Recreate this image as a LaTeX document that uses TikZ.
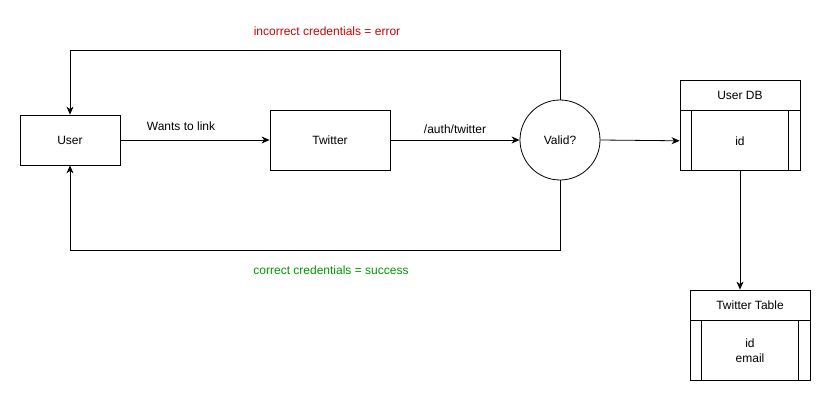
\documentclass[tikz,border=0pt]{standalone}
\usepackage{fontspec}
\setmainfont{Liberation Sans}
\usetikzlibrary{arrows.meta,positioning}
\definecolor{errred}{HTML}{CC0000}
\definecolor{okgreen}{HTML}{009900}
\tikzset{
  box/.style={draw, line width=0.8pt, inner sep=0pt, font=\fontsize{12}{14.5}\selectfont},
  arr/.style={line width=0.8pt, -{Stealth[length=8pt,width=7pt,inset=2.5pt]}},
  lbl/.style={inner sep=0pt, font=\fontsize{12}{14.5}\selectfont}
}

\begin{document}
\begin{tikzpicture}[x=1pt,y=-1pt]
          \useasboundingbox (0,0) rectangle (831,401);

          % main flow
          \node[box, minimum width=100pt, minimum height=50pt] (user) at (70,140) {User};
          \node[box, minimum width=120pt, minimum height=60pt] (twitter) at (330,140) {Twitter};
          \node[box, circle, minimum size=80pt] (valid) at (560,140) {Valid?};

          % user db
          \node[box, minimum width=120pt, minimum height=30pt] (dbhead) at (740,95) {User DB};
          \node[box, minimum width=120pt, minimum height=60pt, anchor=north] (dbbody) at (dbhead.south) {id};
          \draw[line width=0.8pt] ([xshift=12pt]dbbody.north west) -- ([xshift=12pt]dbbody.south west);
          \draw[line width=0.8pt] ([xshift=-12pt]dbbody.north east) -- ([xshift=-12pt]dbbody.south east);

          % twitter table
          \node[box, minimum width=120pt, minimum height=30pt] (tthead) at (750,305) {Twitter Table};
          \node[box, minimum width=120pt, minimum height=60pt, anchor=north, align=center] (ttbody) at (tthead.south) {id\\email};
          \draw[line width=0.8pt] ([xshift=12pt]ttbody.north west) -- ([xshift=12pt]ttbody.south west);
          \draw[line width=0.8pt] ([xshift=-12pt]ttbody.north east) -- ([xshift=-12pt]ttbody.south east);

          \draw[arr] (user.east) -- (twitter.west);
          \draw[arr] (twitter.east) -- (valid.west);
          \draw[arr] (valid.east) -- (dbbody.west);
          \draw[arr] (dbbody.south) -- (dbbody.south |- tthead.north);

          \coordinate (toploop) at (560,50);
          \coordinate (botloop) at (560,250);
          \draw[arr] (valid.north) -- (toploop) -| (user.north);
          \draw[arr] (valid.south) -- (botloop) -| (user.south);

          \node[lbl] at (181,126) {Wants to link};
          \node[lbl] at (455,129) {/auth/twitter};
          \node[lbl, text=errred] at (327,31) {incorrect credentials = error};
          \node[lbl, text=okgreen] at (331,270) {correct credentials = success};
        \end{tikzpicture}
\end{document}
